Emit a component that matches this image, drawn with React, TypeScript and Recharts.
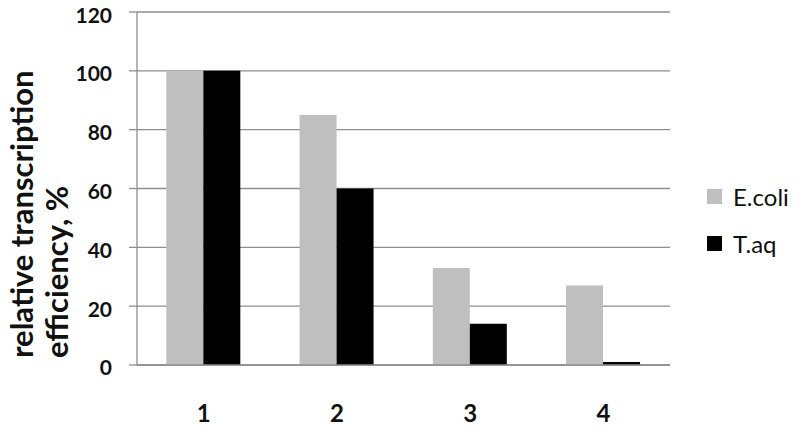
import React from 'react';
import { BarChart, Bar, XAxis, YAxis, CartesianGrid, Legend, Label } from 'recharts';

const categories = ['1', '2', '3', '4'];
const ecoliValues = [100, 85, 33, 27];
const taqValues = [100, 60, 14, 1];
const yTicks = [0, 20, 40, 60, 80, 100, 120];
const boundaryTicks = [0, 1, 2, 3, 4];
const seriesNames = { ecoli: 'E.coli', taq: 'T.aq' };

const data = categories.map((c, i) => ({ cat: c, ecoli: ecoliValues[i], taq: taqValues[i] }));

const AXIS = '#8e8e8e';
const FONT = 'Lato, "Open Sans", sans-serif';

const YLabel = (props: any) => {
  const vb = props.viewBox || { x: 0, y: 0, width: 0, height: 0 };
  const bottom = vb.y + vb.height - 7;
  return (
    <g>
      <text x={33} y={bottom} transform={`rotate(-90, 33, ${bottom})`} textAnchor="start"
        fontFamily={FONT} fontWeight={700} fontSize={31} fill="#111">relative transcription</text>
      <text x={68} y={bottom} transform={`rotate(-90, 68, ${bottom})`} textAnchor="start"
        fontFamily={FONT} fontWeight={700} fontSize={31} fill="#111">efficiency, %</text>
    </g>
  );
};

const LegendContent = (props: any) => {
  const items = props.payload || [];
  return (
    <div style={{ fontFamily: FONT, fontSize: 24, color: '#111' }}>
      {items.map((it: any) => (
        <div key={it.value} style={{ display: 'flex', alignItems: 'center', height: 47 }}>
          <span style={{ display: 'inline-block', width: 15, height: 15, background: it.color, marginRight: 11 }} />
          <span>{it.value}</span>
        </div>
      ))}
    </div>
  );
};

export default function App() {
  return (
    <div style={{ position: 'absolute', left: 0, top: 0, width: 800, height: 430, background: '#fff' }}>
      <BarChart width={800} height={430} data={data}
        margin={{ top: 12, right: 130, left: 0, bottom: 8 }}
        barCategoryGap="22%" barGap={0}>
        <CartesianGrid vertical={false} stroke={AXIS} strokeWidth={1.3} />
        <XAxis xAxisId="bounds" type="number" domain={[0, 4]} ticks={boundaryTicks}
          height={0} tickSize={8} tickLine={{ stroke: AXIS, strokeWidth: 1.3 }} axisLine={false}
          tickFormatter={() => ''} allowDataOverflow />
        <XAxis dataKey="cat" height={57} tickSize={0} tickMargin={40}
          axisLine={{ stroke: AXIS, strokeWidth: 1.3 }} tickLine={false}
          tick={{ fontFamily: FONT, fontWeight: 700, fontSize: 24, fill: '#111' }} />
        <YAxis domain={[0, 120]} ticks={yTicks} width={137} tickSize={8} tickMargin={17}
          axisLine={{ stroke: AXIS, strokeWidth: 1.3 }} tickLine={{ stroke: AXIS, strokeWidth: 1.3 }}
          tick={{ fontFamily: FONT, fontWeight: 700, fontSize: 21, fill: '#111', dy: 3 }}>
          <Label content={<YLabel />} />
        </YAxis>
        <Legend layout="vertical" verticalAlign="middle" align="center" content={<LegendContent />}
          wrapperStyle={{ top: 173, left: 707, width: 93 }} />
        <Bar dataKey="ecoli" name={seriesNames.ecoli} fill="#bfbfbf" isAnimationActive={false} />
        <Bar dataKey="taq" name={seriesNames.taq} fill="#000000" isAnimationActive={false} />
      </BarChart>
    </div>
  );
}
